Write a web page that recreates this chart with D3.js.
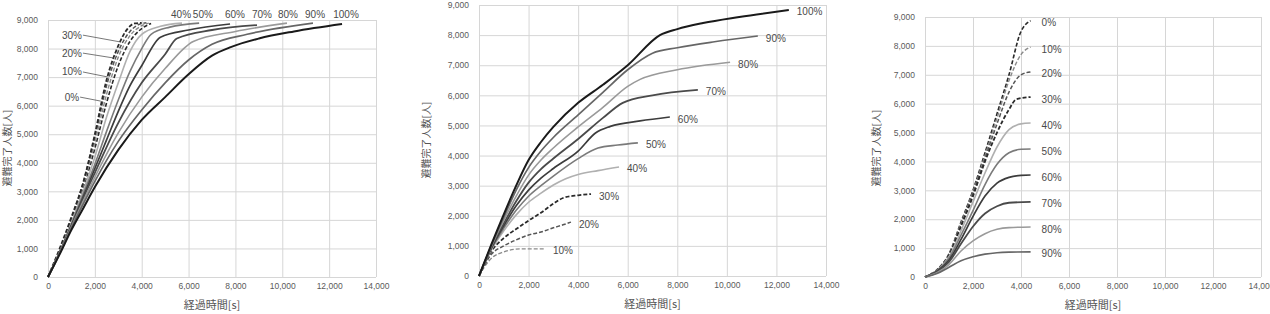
<!DOCTYPE html>
<html>
<head>
<meta charset="utf-8">
<script src="https://cdn.jsdelivr.net/npm/d3@7/dist/d3.min.js"></script>
<style>
  body { margin: 0; background: #fff; }
  text { font-family: "Liberation Sans", "DejaVu Sans", sans-serif; }
  .title { font-family: "Noto Sans CJK JP", "Noto Sans", sans-serif; }
</style>
</head>
<body>
<svg id="chart" width="1270" height="314"></svg>
<script>
// ---- data (time [s], evacuated persons) ----
var xTicks = [0, 2000, 4000, 6000, 8000, 10000, 12000, 14000];
var yTicks = [0, 1000, 2000, 3000, 4000, 5000, 6000, 7000, 8000, 9000];
var xTitle = "経過時間[s]";
var yTitle = "避難完了人数[人]";

var leftNames = ["0%", "10%", "20%", "30%", "40%", "50%", "60%", "70%", "80%", "90%", "100%"];
var leftLines = [
  [[0,0],[500,880],[1000,1950],[1500,3100],[2000,4500],[2500,6100],[3000,7400],[3500,8250],[4000,8700],[4400,8880]],
  [[0,0],[500,900],[1000,2000],[1500,3200],[2000,4700],[2500,6400],[3000,7700],[3500,8450],[4000,8800],[4300,8890]],
  [[0,0],[500,950],[1000,2050],[1500,3300],[2000,4900],[2500,6700],[3000,7900],[3500,8600],[3900,8850],[4200,8900]],
  [[0,0],[500,1000],[1000,2100],[1500,3300],[2000,5000],[2500,6900],[3000,8100],[3400,8700],[3700,8880],[4000,8900]],
  [[0,0],[500,880],[1000,1900],[1500,3000],[2000,4200],[2500,5600],[3000,6800],[3500,7900],[4000,8500],[4800,8780],[5720,8890]],
  [[0,0],[500,870],[1000,1850],[1500,2900],[2000,3950],[2500,5100],[3000,6200],[3500,7200],[4000,8000],[4400,8500],[5200,8750],[6450,8890]],
  [[0,0],[500,860],[1000,1800],[1500,2800],[2000,3800],[2500,4800],[3000,5800],[3500,6700],[4000,7400],[4800,8400],[6000,8650],[7770,8860]],
  [[0,0],[500,850],[1000,1780],[1500,2750],[2000,3650],[3000,5400],[4000,6800],[5000,7800],[5500,8350],[7000,8650],[8920,8820]],
  [[0,0],[500,840],[1000,1750],[1500,2650],[2000,3500],[3000,5050],[4000,6300],[5000,7300],[6200,8250],[8000,8600],[10200,8890]],
  [[0,0],[500,830],[1000,1720],[1500,2550],[2000,3350],[3000,4750],[4000,5850],[5000,6800],[6000,7600],[7000,8150],[8500,8500],[11310,8890]],
  [[0,0],[500,800],[1000,1650],[1500,2400],[2000,3150],[3000,4450],[4000,5500],[5000,6300],[6000,7100],[7000,7750],[7800,8050],[9000,8350],[10500,8600],[12550,8860]]
];
// x position (s) of the percent labels above the left panel
var leftTopLabelX = [5680, 6610, 7980, 9130, 10240, 11400, 12720];

var midNames = ["10%", "20%", "30%", "40%", "50%", "60%", "70%", "80%", "90%", "100%"];
var midLines = [
  [[0,0],[300,400],[560,630],[1000,800],[1650,900],[2660,900]],
  [[0,0],[500,720],[1000,1000],[1500,1200],[2000,1360],[2500,1460],[3000,1600],[3390,1700],[3710,1790]],
  [[0,0],[500,820],[1000,1260],[1500,1560],[2000,1840],[2500,2100],[3000,2400],[3390,2590],[4000,2680],[4520,2720]],
  [[0,0],[500,870],[1000,1500],[1500,2030],[2000,2450],[2500,2750],[3000,3020],[3500,3230],[4000,3370],[4800,3500],[5650,3620]],
  [[0,0],[500,900],[1000,1590],[1500,2180],[2000,2650],[2500,3000],[3000,3320],[4000,3900],[4800,4250],[5600,4350],[6410,4420]],
  [[0,0],[500,930],[1000,1670],[1500,2330],[2000,2850],[2500,3250],[3000,3570],[4000,4150],[4700,4750],[5300,4970],[6500,5150],[7700,5280]],
  [[0,0],[500,960],[1000,1750],[1500,2480],[2000,3100],[2500,3550],[3000,3900],[4000,4550],[5000,5250],[5800,5750],[7000,6000],[8830,6180]],
  [[0,0],[500,990],[1000,1850],[1500,2650],[2000,3350],[2500,3850],[3000,4250],[4000,4950],[5000,5600],[6000,6300],[6500,6530],[8000,6850],[10130,7100]],
  [[0,0],[500,1020],[1000,1950],[1500,2850],[2000,3600],[2500,4150],[3000,4600],[4000,5350],[5000,6100],[6000,6850],[7000,7400],[8000,7580],[9500,7780],[11250,7970]],
  [[0,0],[500,1050],[1000,2050],[1500,3000],[2000,3850],[2500,4450],[3000,4950],[4000,5750],[5000,6350],[6000,7000],[7300,8000],[8000,8200],[9040,8400],[10500,8600],[12500,8835]]
];

var rightNames = ["0%", "10%", "20%", "30%", "40%", "50%", "60%", "70%", "80%", "90%"];
var rightLines = [
  [[0,0],[500,250],[1000,800],[1500,1900],[2000,3000],[2500,4300],[3000,5650],[3500,7000],[4000,8500],[4200,8750],[4400,8870]],
  [[0,0],[500,250],[1000,780],[1500,1850],[2000,2950],[2500,4200],[3000,5500],[3500,6800],[4000,7700],[4400,7960]],
  [[0,0],[500,250],[1000,770],[1500,1800],[2000,2900],[2500,4100],[3000,5300],[3500,6400],[4000,7000],[4400,7100]],
  [[0,0],[500,240],[1000,750],[1500,1750],[2000,2800],[2500,4000],[3000,5000],[3500,5800],[3800,6150],[4400,6230]],
  [[0,0],[500,230],[1000,700],[1500,1600],[2000,2600],[2500,3600],[3000,4500],[3500,5100],[4000,5300],[4400,5330]],
  [[0,0],[500,220],[1000,650],[1500,1450],[2000,2300],[2500,3200],[3000,3900],[3500,4300],[4000,4420],[4400,4430]],
  [[0,0],[500,200],[1000,580],[1500,1300],[2000,2100],[2500,2800],[3000,3250],[3500,3450],[4000,3520],[4400,3530]],
  [[0,0],[500,180],[1000,520],[1500,1150],[2000,1750],[2500,2200],[3000,2450],[3500,2570],[4400,2600]],
  [[0,0],[500,150],[1000,430],[1500,900],[2000,1250],[2500,1500],[3000,1650],[3500,1710],[4400,1730]],
  [[0,0],[500,120],[1000,340],[1500,560],[2000,700],[2500,790],[3000,840],[3500,860],[4400,870]]
];

// ---- styles ----
var lineStyle = {
  "0%":   { color: "#2a2a2a", dash: "4,2", w: 1.6 },
  "10%":  { color: "#8a8a8a", dash: "4,2", w: 1.4 },
  "20%":  { color: "#555",    dash: "4,2", w: 1.5 },
  "30%":  { color: "#2a2a2a", dash: "4,2", w: 1.8 },
  "40%":  { color: "#b0b0b0", dash: null,  w: 1.6 },
  "50%":  { color: "#7a7a7a", dash: null,  w: 1.6 },
  "60%":  { color: "#3c3c3c", dash: null,  w: 1.7 },
  "70%":  { color: "#4a4a4a", dash: null,  w: 1.8 },
  "80%":  { color: "#9a9a9a", dash: null,  w: 1.6 },
  "90%":  { color: "#666",    dash: null,  w: 1.7 },
  "100%": { color: "#1a1a1a", dash: null,  w: 2 }
};

var svg = d3.select("#chart");

function drawPanel(p, names, lines) {
  var x = d3.scaleLinear().domain([0, 14000]).range([p.left, p.right]);
  var y = d3.scaleLinear().domain([0, 9000]).range([p.bottom, p.top]);
  var g = svg.append("g");

  var xAxis = d3.axisBottom(x).tickValues(xTicks).tickFormat(d3.format(","))
    .tickSize(-(p.bottom - p.top)).tickPadding(6);
  var yAxis = d3.axisLeft(y).tickValues(yTicks).tickFormat(d3.format(","))
    .tickSize(-(p.right - p.left)).tickPadding(10);

  g.append("g").attr("transform", "translate(0," + p.bottom + ")").call(xAxis);
  g.append("g").attr("transform", "translate(" + p.left + ",0)").call(yAxis);
  g.selectAll(".domain").remove();
  g.selectAll(".tick line").attr("stroke", "#d6d6d6").attr("stroke-width", 1);
  g.selectAll(".tick text").attr("fill", "#5a5a5a").style("font-size", "8.5px");

  g.append("text").attr("class", "title")
    .attr("x", (p.left + p.right) / 2).attr("y", p.bottom + 32)
    .attr("text-anchor", "middle").attr("fill", "#555").style("font-size", "11px")
    .text(xTitle);
  g.append("text").attr("class", "title")
    .attr("transform", "translate(" + p.ytx + "," + p.yty + ") rotate(-90)")
    .attr("text-anchor", "middle").attr("fill", "#555").style("font-size", "10px")
    .text(yTitle);

  var line = d3.line()
    .x(function (d) { return x(d[0]); })
    .y(function (d) { return y(d[1]); })
    .curve(d3.curveMonotoneX);

  var order = names.map(function (n, i) { return i; });
  g.selectAll(".series")
    .data(order)
    .enter().append("path")
    .attr("class", "series")
    .attr("fill", "none")
    .attr("d", function (i) { return line(lines[i]); })
    .attr("stroke", function (i) { return lineStyle[names[i]].color; })
    .attr("stroke-width", function (i) { return lineStyle[names[i]].w; })
    .attr("stroke-dasharray", function (i) { return lineStyle[names[i]].dash; })
    .attr("stroke-linejoin", "round");

  return { g: g, x: x, y: y };
}

function labelText(g, px, py, txt, anchor) {
  g.append("text")
    .attr("x", px).attr("y", py).attr("dy", "0.35em")
    .attr("text-anchor", anchor || "start")
    .attr("fill", "#4a4a4a").style("font-size", "10px")
    .text(txt);
}

// ---- left panel ----
var pl = drawPanel({ left: 48, right: 376, top: 20, bottom: 277, ytx: 11, yty: 148 }, leftNames, leftLines);
// leader labels for the dashed group: [label end, point on curve] in data units
var leaders = {
  "30%": [[1490, 8470], [3100, 8230]],
  "20%": [[1490, 7840], [2800, 7670]],
  "10%": [[1490, 7180], [2580, 7000]],
  "0%":  [[1370, 6300], [2250, 6160]]
};
Object.keys(leaders).forEach(function (k) {
  var a = leaders[k][0], b = leaders[k][1];
  pl.g.append("line")
    .attr("x1", pl.x(a[0])).attr("y1", pl.y(a[1]))
    .attr("x2", pl.x(b[0])).attr("y2", pl.y(b[1]))
    .attr("stroke", "#555").attr("stroke-width", 0.8);
  labelText(pl.g, pl.x(a[0]) - 1, pl.y(a[1]), k, "end");
});
leftNames.slice(4).forEach(function (n, i) {
  labelText(pl.g, pl.x(leftTopLabelX[i]), 14, n, "middle");
});

// ---- middle panel ----
var pm = drawPanel({ left: 479, right: 826, top: 5, bottom: 276, ytx: 430, yty: 140 }, midNames, midLines);
midNames.forEach(function (n, i) {
  var last = midLines[i][midLines[i].length - 1];
  labelText(pm.g, pm.x(last[0]) + 8, pm.y(last[1]) + 2, n, "start");
});

// ---- right panel ----
var pr = drawPanel({ left: 925, right: 1261, top: 17, bottom: 277, ytx: 880, yty: 148 }, rightNames, rightLines);
rightNames.forEach(function (n, i) {
  var last = rightLines[i][rightLines[i].length - 1];
  labelText(pr.g, pr.x(last[0]) + 11, pr.y(last[1]) + 2, n, "start");
});
</script>
</body>
</html>
